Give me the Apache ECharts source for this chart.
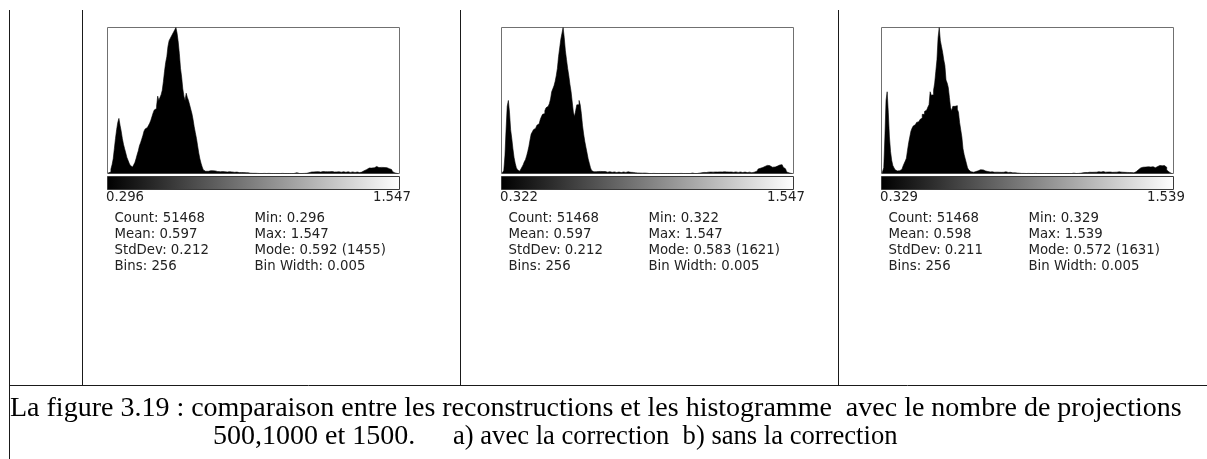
<!DOCTYPE html>
<html>
<head>
<meta charset="utf-8">
<script src="https://cdn.jsdelivr.net/npm/echarts@6/dist/echarts.min.js"></script>
<style>
  html, body { margin: 0; padding: 0; background: #ffffff; }
  #c { width: 1207px; height: 459px; }
</style>
</head>
<body>
<div id="c"></div>
<script>
// Bin counts (256 bins each) for the three reconstructions: 500, 1000 and 1500 projections.
const hist500 = [
  4, 7, 15, 44, 87, 146, 247, 349, 437, 509, 549, 480, 422, 349, 291, 247,
  204, 160, 131, 102, 80, 65, 65, 87, 109, 146, 189, 226, 276, 306, 342, 378,
  422, 444, 458, 466, 480, 502, 531, 567, 604, 633, 647, 669, 771, 728, 757, 786,
  829, 917, 1019, 1106, 1164, 1266, 1324, 1346, 1368, 1389, 1411, 1433, 1455, 1397, 1310, 1193,
  1048, 960, 844, 771, 728, 800, 757, 728, 684, 640, 597, 538, 466, 407, 349, 276,
  204, 146, 102, 65, 36, 22, 19,
  24, 22, 26, 28, 25, 27, 30, 26, 22, 20, 24, 18, 16, 19, 14, 12,
  17, 15, 10, 13, 18, 16, 11, 8, 12, 15, 14, 11, 9, 13, 10, 7,
  9, 6, 8, 5, 7, 4, 3, 5, 2,
  3, 2, 0, 1, 0, 0, 2, 0, 0, 1, 0, 0, 0, 1, 0, 0,
  0, 0, 1, 0, 0, 0, 0, 0, 0, 1, 0, 0, 0, 0, 0, 0,
  0, 0, 0, 0, 2, 8, 3, 0, 0, 0, 0, 0, 1, 0, 2, 4, 7,
  12, 15, 13, 16, 14, 17, 15, 18, 16, 14, 17, 19, 16, 18, 15, 17,
  20, 18, 16, 19, 17, 15, 18, 16, 14, 17, 15, 13, 16, 18, 14, 12,
  15, 17, 13, 11, 14, 16, 12, 10, 13, 15, 11, 9, 12, 14, 17, 22, 28,
  38, 46, 52, 55, 58, 54, 60, 57, 62, 70, 64, 59, 66, 61, 57, 63,
  60, 55, 58, 62, 56, 48, 40, 30, 18,
  6, 2, 0, 0, 1
];
const hist1000 = [
  3, 6, 32, 195, 486, 746, 811, 681, 486, 389, 276, 178, 113, 65, 41, 26,
  32, 49, 73, 97, 130, 154, 195, 243, 300, 373, 438, 462, 486, 503, 519, 535,
  551, 567, 600, 632, 657, 665, 697, 729, 746, 762, 778, 827, 908, 940, 973, 1021,
  1086, 1167, 1297, 1394, 1491, 1556, 1621, 1508, 1362, 1264, 1167, 1086, 989, 908, 794, 681,
  632, 697, 762, 762, 811, 762, 665, 535, 438, 357, 292, 227, 162, 113, 65, 32, 19,
  18, 20, 24, 22, 26, 23, 25, 21, 19, 22, 18, 15, 17, 20, 16, 13,
  15, 18, 14, 11, 13, 16, 12, 10, 14, 17, 15, 12, 16, 19, 14, 11,
  13, 9, 12, 10, 7, 9, 6, 8, 5, 7, 4, 3, 5, 2, 3,
  1, 0, 2, 0, 0, 1, 0, 0, 0, 0, 1, 0, 0, 0, 0, 0,
  1, 0, 0, 0, 0, 0, 0, 0, 0, 0, 0, 0, 0, 1, 0, 0,
  0, 0, 0, 0, 0, 0, 3, 5, 2, 0, 0, 0, 2, 4, 6, 8,
  10, 12, 14, 11, 13, 15, 12, 16, 18, 15, 13, 17, 19, 16, 20, 18,
  15, 17, 21, 19, 16, 18, 14, 16, 19, 17, 15, 13, 16, 18, 14, 12,
  15, 17, 13, 11, 14, 16, 12, 10, 13, 15, 11, 9, 12, 14, 18,
  26, 38, 50, 58, 62, 66, 72, 78, 84, 90, 95, 88, 80, 74, 70, 76,
  72, 68, 74, 82, 88, 94, 98, 86, 70, 52, 34, 18,
  7, 3, 1, 0, 1
];
const hist1500 = [
  3, 7, 65, 408, 816, 913, 685, 408, 245, 147, 90, 65, 41, 29, 23, 26,
  31, 46, 60, 82, 111, 139, 171, 261, 343, 408, 473, 506, 530, 546, 555, 571,
  579, 587, 603, 620, 661, 661, 693, 709, 718, 742, 767, 913, 873, 881, 930, 1011,
  1142, 1272, 1517, 1631, 1484, 1419, 1354, 1272, 1207, 1044, 1011, 962, 848, 734, 701, 750,
  750, 734, 758, 718, 685, 571, 489, 408, 277, 212, 163, 114, 65, 41, 20, 13, 10,
  14, 18, 22, 26, 30, 36, 42, 46, 40, 34, 28, 24, 22, 20, 18, 21,
  19, 16, 14, 17, 15, 12, 14, 16, 13, 11, 14, 17, 19, 15, 12, 10,
  13, 9, 7, 10, 8, 6, 5, 4, 3,
  2, 1, 0, 1, 0, 0, 0, 1, 0, 0, 0, 0, 0, 1, 0, 0,
  0, 0, 0, 0, 0, 0, 0, 0, 0, 0, 0, 0, 0, 0, 0, 0,
  0, 0, 0, 0, 0, 0, 0, 0, 0, 0, 0, 0, 0, 0, 2, 4,
  1, 0, 0, 1, 0, 3, 5, 7,
  9, 11, 13, 10, 12, 14, 11, 13, 16, 14, 12, 15, 17, 20, 18, 16,
  19, 21, 17, 15, 18, 16, 14, 17, 15, 13, 16, 14, 12, 15, 17, 19,
  14, 12, 15, 18, 13, 10, 12, 9, 11, 14, 10, 8, 7,
  12, 20, 30, 42, 54, 62, 66, 70, 74, 68, 72, 78, 75, 70, 66, 72,
  76, 70, 64, 68, 78, 84, 90, 94, 86, 80, 88, 92, 70, 40,
  18, 6, 2, 0, 1
];

// Range labels under each grey-scale bar (min, max)
const rangeLabels = [
  ['0.296', '1.547'],
  ['0.322', '1.547'],
  ['0.329', '1.539']
];

// Statistics blocks, two columns per panel
const statsLeft = [
  ['Count: 51468', 'Mean: 0.597', 'StdDev: 0.212', 'Bins: 256'],
  ['Count: 51468', 'Mean: 0.597', 'StdDev: 0.212', 'Bins: 256'],
  ['Count: 51468', 'Mean: 0.598', 'StdDev: 0.211', 'Bins: 256']
];
const statsRight = [
  ['Min: 0.296', 'Max: 1.547', 'Mode: 0.592 (1455)', 'Bin Width: 0.005'],
  ['Min: 0.322', 'Max: 1.547', 'Mode: 0.583 (1621)', 'Bin Width: 0.005'],
  ['Min: 0.329', 'Max: 1.539', 'Mode: 0.572 (1631)', 'Bin Width: 0.005']
];

// Caption: first line, then the second line split at its tab stop
const captionLine1 = 'La figure 3.19 : comparaison entre les reconstructions et les histogramme  avec le nombre de projections';
const captionLine2 = ['500,1000 et 1500.', 'a) avec la correction  b) sans la correction'];

const histograms = [hist500, hist1000, hist1500];

// ---- layout ----
const panelLeft = [107.5, 501.5, 881.5];
const plotW = 292, plotTop = 27.5, plotH = 146;
const rampTop = 176.5, rampH = 13;
const labelY = 198;
const statRowY = [219, 235, 251, 267];
const statFont = '13.3px "DejaVu Sans", sans-serif';
const captionFont = '28px "Liberation Serif", serif';
const captionFontTail = '26.6px "Liberation Serif", serif';

const chart = echarts.init(document.getElementById('c'), null, { renderer: 'canvas' });

const grids = [], xAxes = [], yAxes = [], series = [], graphics = [];

histograms.forEach((hist, i) => {
  grids.push({
    left: panelLeft[i], top: plotTop, width: plotW, height: plotH,
    show: true, borderColor: '#707070', borderWidth: 1, backgroundColor: '#ffffff',
    containLabel: false
  });
  xAxes.push({ type: 'category', gridIndex: i, show: false, boundaryGap: true });
  yAxes.push({ type: 'value', gridIndex: i, show: false, min: 0, max: 'dataMax' });
  // one filled stepped outline per histogram: solid silhouette, no seams between bins
  series.push({
    type: 'line', xAxisIndex: i, yAxisIndex: i, data: hist,
    step: 'middle', symbol: 'none', silent: true, z: 2,
    lineStyle: { color: '#000000', width: 0.6 },
    areaStyle: { color: '#000000', opacity: 1 }
  });

  // grey-scale ramp under the histogram
  graphics.push({
    type: 'rect', silent: true,
    shape: { x: panelLeft[i], y: rampTop, width: plotW, height: rampH },
    style: {
      fill: new echarts.graphic.LinearGradient(0, 0, 1, 0, [
        { offset: 0, color: '#000000' },
        { offset: 1, color: '#ffffff' }
      ]),
      stroke: '#3a3a3a', lineWidth: 1
    }
  });

  // min / max labels
  graphics.push({
    type: 'text', silent: true,
    style: { text: rangeLabels[i][0], x: panelLeft[i] - 1.5, y: labelY, font: statFont, fill: '#222', align: 'left', verticalAlign: 'middle' }
  });
  graphics.push({
    type: 'text', silent: true,
    style: { text: rangeLabels[i][1], x: panelLeft[i] + plotW + 11.5, y: labelY, font: statFont, fill: '#222', align: 'right', verticalAlign: 'middle' }
  });

  // statistics
  statRowY.forEach((y, r) => {
    graphics.push({
      type: 'text', silent: true,
      style: { text: statsLeft[i][r], x: panelLeft[i] + 7, y: y, font: statFont, fill: '#222', align: 'left', verticalAlign: 'middle' }
    });
    graphics.push({
      type: 'text', silent: true,
      style: { text: statsRight[i][r], x: panelLeft[i] + 147, y: y, font: statFont, fill: '#222', align: 'left', verticalAlign: 'middle' }
    });
  });
});

// table rules
const ruleStyle = { stroke: '#1a1a1a', lineWidth: 1 };
[[9.5, 10, 9.5, 459], [82.5, 10, 82.5, 385], [460.5, 10, 460.5, 385], [838.5, 10, 838.5, 385], [9, 385.5, 1207, 385.5]]
  .forEach(([x1, y1, x2, y2]) => {
    graphics.push({ type: 'line', silent: true, shape: { x1, y1, x2, y2 }, style: ruleStyle });
  });

// caption
graphics.push({
  type: 'text', silent: true,
  style: { text: captionLine1, x: 10, y: 409, font: captionFont, fill: '#000', align: 'left', verticalAlign: 'middle' }
});
graphics.push({
  type: 'text', silent: true,
  style: { text: captionLine2[0], x: 213, y: 437, font: captionFont, fill: '#000', align: 'left', verticalAlign: 'middle' }
});
graphics.push({
  type: 'text', silent: true,
  style: { text: captionLine2[1], x: 453, y: 437, font: captionFontTail, fill: '#000', align: 'left', verticalAlign: 'middle' }
});

chart.setOption({
  animation: false,
  backgroundColor: '#ffffff',
  grid: grids,
  xAxis: xAxes,
  yAxis: yAxes,
  series: series,
  graphic: { elements: graphics }
});
</script>
</body>
</html>
